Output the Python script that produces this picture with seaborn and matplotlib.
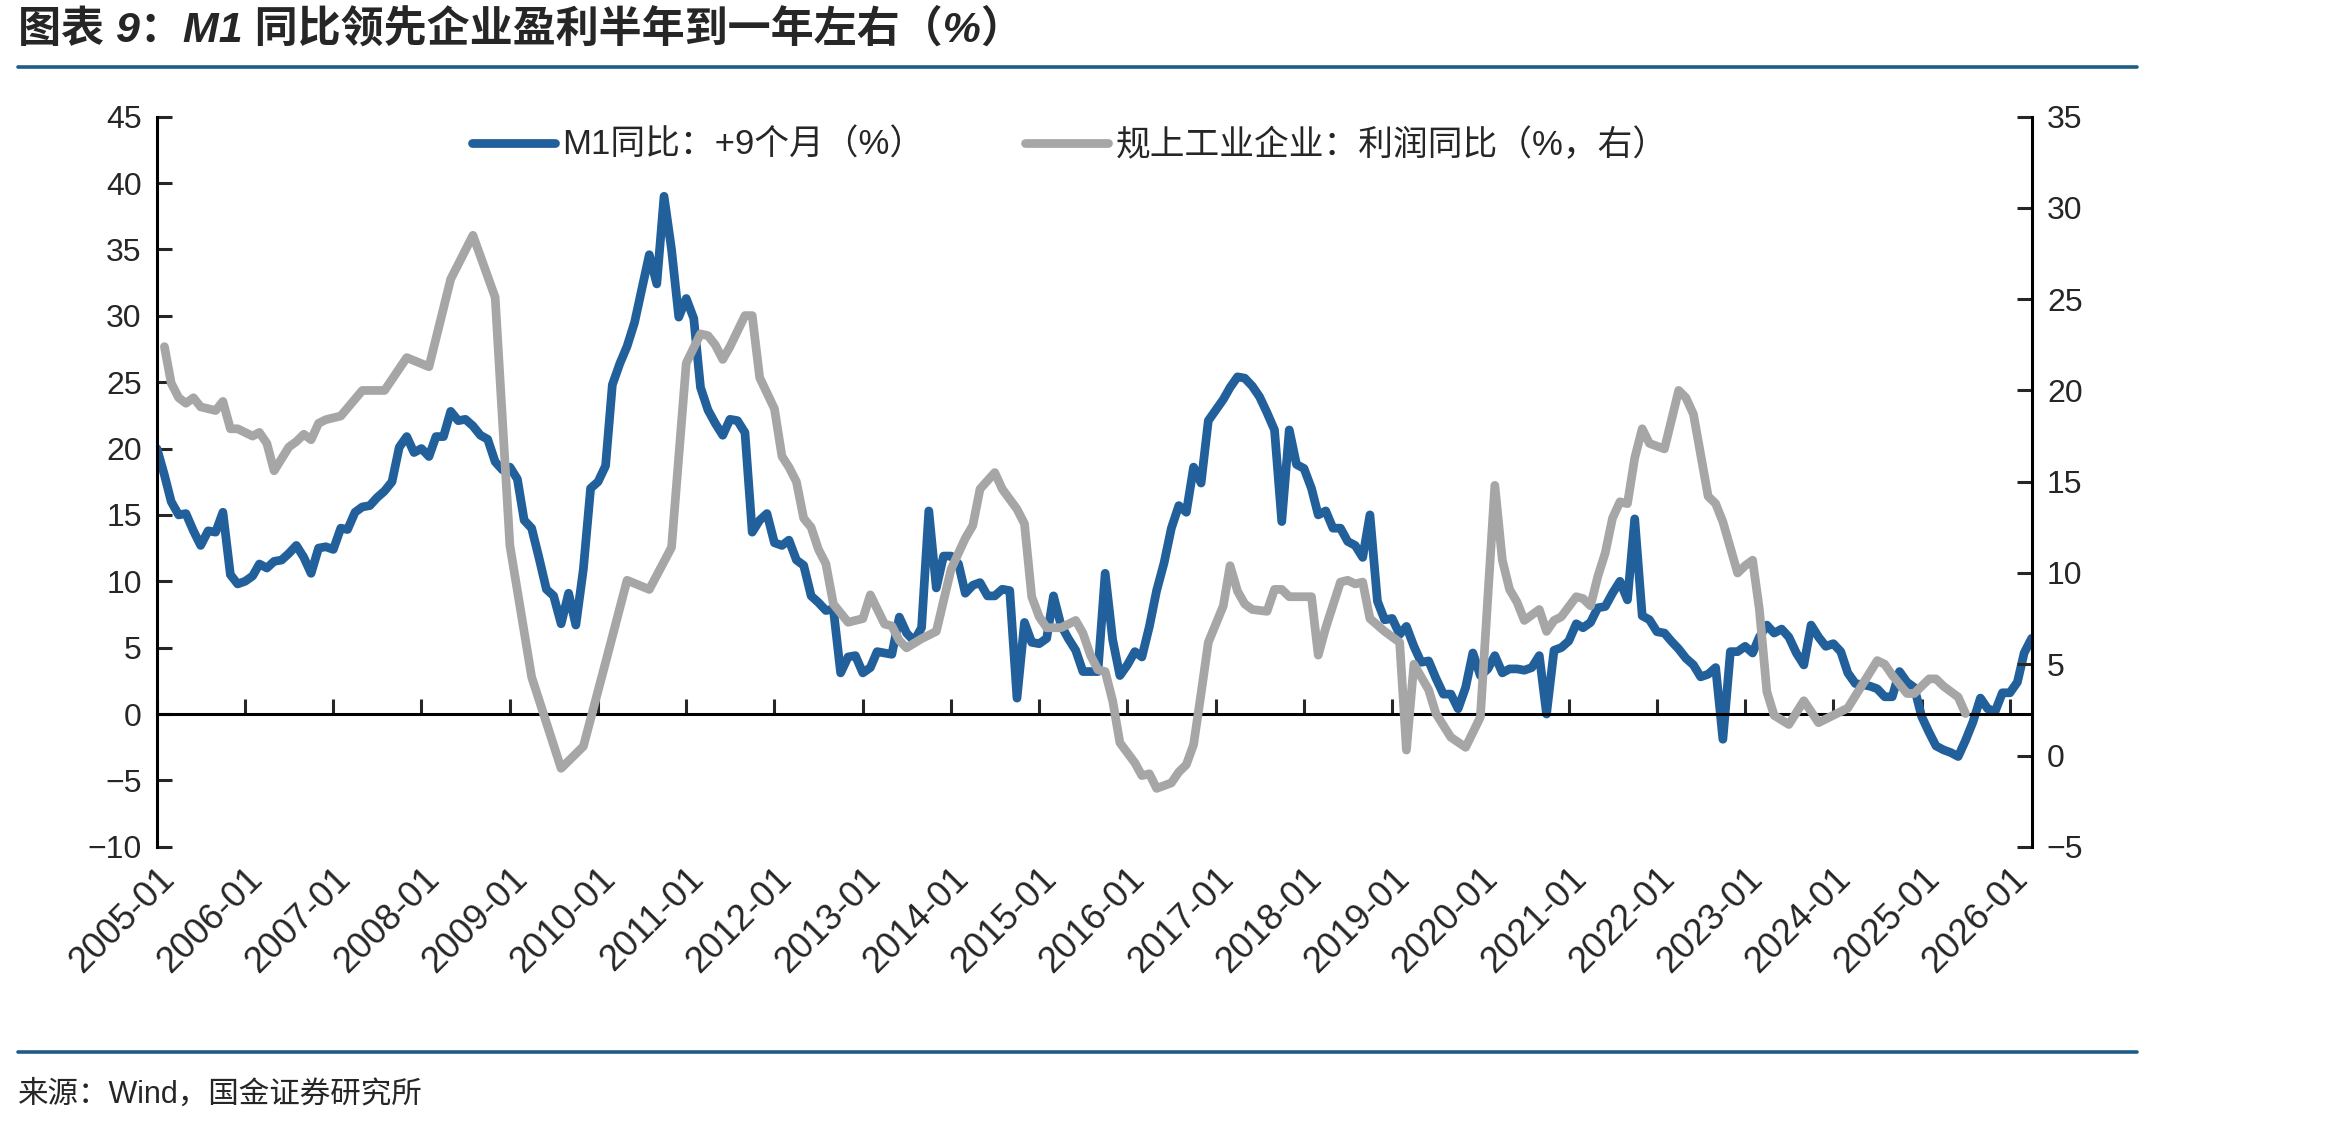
import pandas as pd
import matplotlib
matplotlib.use("Agg")
import matplotlib.pyplot as plt
import matplotlib.dates as mdates
from matplotlib.lines import Line2D
import seaborn as sns

# M1 同比（+9个月），月度，2005-01 起
m1_2005 = [20.0, 18.0, 16.0, 15.0, 15.1, 13.8, 12.7, 13.8, 13.7, 15.2, 10.5, 9.8]
m1_2006 = [10.0, 10.4, 11.3, 11.0, 11.5, 11.6, 12.1, 12.7, 11.8, 10.6, 12.5, 12.6]
m1_2007 = [12.4, 14.0, 13.9, 15.2, 15.6, 15.7, 16.3, 16.8, 17.5, 20.1, 20.9, 19.7]
m1_2008 = [20.0, 19.4, 20.9, 20.9, 22.8, 22.1, 22.2, 21.7, 21.0, 20.7, 19.0, 18.4]
m1_2009 = [18.6, 17.7, 14.6, 14.0, 11.8, 9.4, 8.9, 6.8, 9.1, 6.7, 10.9, 17.0]
m1_2010 = [17.5, 18.7, 24.8, 26.4, 27.7, 29.5, 32.0, 34.6, 32.4, 39.0, 35.0, 29.9]
m1_2011 = [31.3, 29.8, 24.6, 22.9, 21.9, 21.0, 22.2, 22.1, 21.2, 13.7, 14.6, 15.1]
m1_2012 = [12.9, 12.7, 13.1, 11.6, 11.2, 8.9, 8.4, 7.8, 7.9, 3.1, 4.3, 4.4]
m1_2013 = [3.1, 3.5, 4.7, 4.6, 4.5, 7.3, 6.1, 5.5, 6.5, 15.3, 9.5, 11.9]
m1_2014 = [11.9, 11.3, 9.1, 9.7, 9.9, 8.9, 8.9, 9.4, 9.3, 1.2, 6.9, 5.4]
m1_2015 = [5.3, 5.7, 8.9, 6.7, 5.7, 4.8, 3.2, 3.2, 3.2, 10.6, 5.6, 2.9]
m1_2016 = [3.7, 4.7, 4.3, 6.6, 9.3, 11.4, 14.0, 15.7, 15.2, 18.6, 17.4, 22.1]
m1_2017 = [22.9, 23.7, 24.6, 25.4, 25.3, 24.7, 23.9, 22.7, 21.4, 14.5, 21.4, 18.8]
m1_2018 = [18.5, 17.0, 15.0, 15.3, 14.0, 14.0, 13.0, 12.7, 11.8, 15.0, 8.5, 7.1]
m1_2019 = [7.2, 6.0, 6.6, 5.1, 3.9, 4.0, 2.7, 1.5, 1.5, 0.4, 2.0, 4.6]
m1_2020 = [2.9, 3.4, 4.4, 3.1, 3.4, 3.4, 3.3, 3.5, 4.4, 0.0, 4.8, 5.0]
m1_2021 = [5.5, 6.8, 6.5, 6.9, 8.0, 8.1, 9.1, 10.0, 8.6, 14.7, 7.4, 7.1]
m1_2022 = [6.2, 6.1, 5.5, 4.9, 4.2, 3.7, 2.8, 3.0, 3.5, -1.9, 4.7, 4.7]
m1_2023 = [5.1, 4.6, 5.8, 6.7, 6.1, 6.4, 5.8, 4.6, 3.7, 6.7, 5.8, 5.1]
m1_2024 = [5.3, 4.7, 3.1, 2.3, 2.2, 2.1, 1.9, 1.3, 1.3, 3.2, 2.4, 2.0]
m1_2025 = [-0.2, -1.4, -2.4, -2.7, -2.9, -3.2, -2.0, -0.6, 1.2, 0.4, 0.2, 1.6]
m1_2026 = [1.6, 2.4, 4.6, 5.7]

m1_values = (m1_2005 + m1_2006 + m1_2007 + m1_2008 + m1_2009 + m1_2010 + m1_2011
             + m1_2012 + m1_2013 + m1_2014 + m1_2015 + m1_2016 + m1_2017 + m1_2018
             + m1_2019 + m1_2020 + m1_2021 + m1_2022 + m1_2023 + m1_2024 + m1_2025
             + m1_2026)

# 规上工业企业利润同比：读数所在月份（距 2005-01 的月数）及数值
profit_month_no = [1, 2, 3, 4, 5, 6, 7, 8, 9, 10, 11, 13, 14, 15, 16, 18, 19, 20, 21, 22, 23,
                   25, 28, 31, 34, 37, 40, 43, 46, 48, 51, 55, 58, 61, 64, 67, 70, 72, 74, 75,
                   76, 77, 78, 80, 81, 82, 84, 85, 86, 87, 88, 89, 90, 91, 92, 94, 96, 97, 99,
                   100, 101, 102, 104, 105, 106, 108, 110, 111, 112, 114, 115, 117, 118, 119,
                   120, 121, 123, 125, 126, 127, 128, 129, 130, 131, 133, 134, 135, 136, 138,
                   139, 140, 141, 142, 143, 145, 146, 147, 148, 149, 151, 152, 153, 154, 157,
                   158, 159, 161, 162, 163, 164, 165, 167, 169, 170, 171, 173, 174, 176, 178,
                   180, 182, 183, 184, 185, 186, 188, 189, 190, 191, 193, 194, 195, 196, 197,
                   198, 199, 200, 201, 202, 203, 205, 207, 208, 209, 211, 212, 213, 215, 216,
                   217, 218, 219, 220, 222, 224, 226, 227, 230, 232, 234, 235, 236, 238, 239,
                   241, 242, 243, 245, 246]
profit_values = [22.4, 20.4, 19.6, 19.3, 19.6, 19.1, 19.0, 18.9, 19.4, 17.9, 17.9, 17.5, 17.7,
                 17.1, 15.6, 16.9, 17.2, 17.6, 17.3, 18.2, 18.4, 18.6, 20.0, 20.0, 21.8, 21.3,
                 26.1, 28.5, 25.1, 11.5, 4.3, -0.7, 0.5, 5.1, 9.6, 9.1, 11.4, 21.5, 23.1, 23.0,
                 22.5, 21.7, 22.4, 24.1, 24.1, 20.7, 19.0, 16.4, 15.8, 15.0, 13.0, 12.5, 11.3,
                 10.5, 8.3, 7.3, 7.5, 8.8, 7.2, 7.1, 6.3, 5.9, 6.4, 6.6, 6.8, 10.2, 11.9, 12.6,
                 14.6, 15.5, 14.6, 13.5, 12.7, 8.7, 7.6, 7.0, 7.0, 7.4, 6.7, 5.5, 4.7, 4.6, 3.0,
                 0.7, -0.4, -1.1, -1.0, -1.8, -1.5, -0.9, -0.5, 0.6, 3.4, 6.2, 8.2, 10.4, 9.0,
                 8.3, 8.0, 7.9, 9.1, 9.1, 8.7, 8.7, 5.5, 7.0, 9.5, 9.6, 9.4, 9.5, 7.5, 6.8, 6.2,
                 0.3, 5.0, 3.6, 2.3, 1.0, 0.45, 2.1, 14.8, 10.7, 9.1, 8.4, 7.4, 8.0, 6.8, 7.4,
                 7.6, 8.7, 8.6, 8.2, 9.8, 11.1, 13.0, 13.9, 13.8, 16.3, 17.9, 17.1, 16.8, 20.0,
                 19.6, 18.7, 14.2, 13.8, 12.8, 10.0, 10.4, 10.7, 8.0, 3.5, 2.2, 1.7, 3.0, 1.8,
                 2.0, 2.6, 3.9, 5.2, 5.0, 4.4, 3.4, 3.4, 4.2, 4.2, 3.8, 3.2, 2.3]

labels = ["M1同比：+9个月（%）", "规上工业企业：利润同比（%，右）"]
title = "图表 9：M1 同比领先企业盈利半年到一年左右（%）"
source = "来源：Wind，国金证券研究所"

start = pd.Timestamp("2005-01-01")
m1_df = pd.DataFrame({"date": pd.date_range(start, periods=len(m1_values), freq="MS"),
                      "value": m1_values})
profit_df = pd.DataFrame({"date": [start + pd.DateOffset(months=k) for k in profit_month_no],
                          "value": profit_values})

blue = "#22609c"
grey = "#a6a6a6"
rule = "#1f5b86"
lw = 6.3

sns.set_style("white")
plt.rcParams["font.family"] = ["Liberation Sans", "Noto Sans CJK SC", "DejaVu Sans"]
plt.rcParams["axes.unicode_minus"] = True

fig = plt.figure(figsize=(23.46, 11.25), dpi=100)
ax = fig.add_axes([0.0669, 0.2473, 0.7991, 0.649])
ax2 = ax.twinx()

sns.lineplot(data=m1_df, x="date", y="value", ax=ax, color=blue, lw=lw,
             solid_joinstyle="round", solid_capstyle="round", legend=False)
sns.lineplot(data=profit_df, x="date", y="value", ax=ax2, color=grey, lw=lw,
             solid_joinstyle="round", solid_capstyle="round", legend=False)

ax.set_xlim(start, m1_df["date"].iloc[-1])
ax.set_ylim(-10, 45)
ax2.set_ylim(-5, 35)
ax.set_yticks(range(-10, 46, 5))
ax2.set_yticks(range(-5, 36, 5))
ax.set_xlabel("")
ax.set_ylabel("")
ax2.set_ylabel("")

ax.xaxis.set_major_locator(mdates.YearLocator(1, month=1, day=1))
ax.xaxis.set_major_formatter(mdates.DateFormatter("%Y-%m"))

for s in ["top", "right"]:
    ax.spines[s].set_visible(False)
for s in ["top", "left", "bottom"]:
    ax2.spines[s].set_visible(False)
ax.spines["bottom"].set_position(("data", 0))
for sp in [ax.spines["left"], ax.spines["bottom"], ax2.spines["right"]]:
    sp.set_linewidth(2.2)
    sp.set_color("black")

ax.tick_params(axis="y", direction="in", length=11, width=2.2, labelsize=23, pad=11,
               left=True)
ax2.tick_params(axis="y", direction="in", length=11, width=2.2, labelsize=23, pad=11,
                right=True)
ax.tick_params(axis="x", direction="in", length=11, width=2.2, labelsize=26, pad=106,
               bottom=True)
for lab in ax.get_xticklabels():
    lab.set_rotation(45)
    lab.set_ha("right")
    lab.set_va("top")
    lab.set_rotation_mode("anchor")

handles = [Line2D([], [], color=blue, lw=lw, solid_capstyle="round"),
           Line2D([], [], color=grey, lw=lw, solid_capstyle="round")]
fig.legend(handles, labels, loc="center", bbox_to_anchor=(0.456, 0.871), ncol=2,
           frameon=False, fontsize=25, handlelength=2.4, handletextpad=0.2,
           columnspacing=2.9)

fig.text(0.0077, 0.973, title, fontsize=31, fontweight="bold", fontstyle="italic",
         va="center", ha="left")
fig.add_artist(Line2D([0.0077, 0.911], [0.9404, 0.9404], color=rule, lw=2.6))
fig.add_artist(Line2D([0.0077, 0.911], [0.0649, 0.0649], color=rule, lw=2.6))
fig.text(0.0077, 0.0267, source, fontsize=22, va="center", ha="left")

fig.savefig("out.png", dpi=100)
